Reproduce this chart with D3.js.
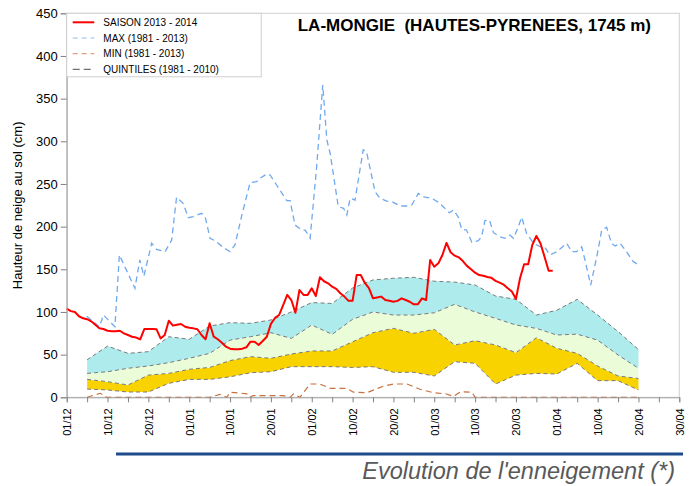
<!DOCTYPE html>
<html>
<head>
<meta charset="utf-8">
<script src="https://cdn.jsdelivr.net/npm/d3@7"></script>
<style>
body { margin: 0; background: #fff; }
svg { display: block; font-family: "Liberation Sans", Arial, sans-serif; }
</style>
</head>
<body>
<script>
var width = 694;
var height = 486;

// x en "jours" : 10 unites par graduation datee
var dateLabels = ["01/12","10/12","20/12","01/01","10/01","20/01","01/02","10/02",
    "20/02","01/03","10/03","20/03","01/04","10/04","20/04","30/04"];

// saison 2013-2014, une valeur par jour depuis le 01/12
var saison = [104,101,100,95,92.6,91.5,89,85,80.8,80,
    78,77.5,77.5,78,75,73,71,70,68,80,
    80,80,79.7,69,73,89.8,84,85,85.9,82.7,
    81.5,80.8,79.7,73,68,86.7,71,68,64,59.3,
    57,56.2,56.2,57,58.6,65.2,65.2,61.3,66,71,
    86,93,96.4,108,120,114,99,125.7,120,120,
    127.7,118.7,140.6,136,133.6,129.6,127,122,118,113,
    113,143.3,143.3,134,128,116,117,118,114,113.2,
    112,113,116,114,112,109,109,116,114,161,
    153,157,166.8,181,170,166,164,159.7,154,150,
    146,143.3,142.5,141,140,136.5,134.3,132,127.7,124,
    115.2,139.5,155.9,155.9,178.5,189,180.5,164.8,148.4,148.4];

// max 1981-2013 : [jour, cm]
var maxi = [[4.9,95],[8,82.7],[9,96.4],[11.8,82.7],[12.9,166.8],[16.7,127.7],[17.9,161],
    [18.9,142],[20.8,180.5],[22,173.4],[24.1,170.6],[25.7,184.3],[26.9,234.4],[28.5,227.3],
    [29.8,210.5],[31,211.7],[33,215.6],[33.9,211.7],[35.1,186.3],[36.3,183.5],[38.3,175.8],
    [40,170.6],[41.2,178.5],[42.8,211.7],[44.9,251.5],[46.5,252.7],[47.3,256.6],[49,261.7],
    [49.8,260.5],[51.4,248.8],[53,237],[53.9,230.4],[54.7,230.4],[55.9,202],[57.5,196],
    [58.4,196],[59.6,186.3],[61.2,270],[62.7,366],[63.7,301.5],[64.5,286],[66.5,223.4],
    [67.8,221.5],[68.6,213.6],[69.4,233.2],[70.6,231.2],[72.6,290],[73.4,288],[75.5,241],
    [76.7,233.2],[78.4,230],[80,228.5],[81.6,224.2],[83.3,224.2],[84.5,225.4],[86.1,239],
    [87.3,235],[89.4,233.2],[91,228.5],[92.2,223.4],[93.7,216.3],[94.7,219.5],[95.9,211],
    [96.7,196.9],[97.9,196],[99.2,181.6],[100.8,183.5],[101.6,188.2],[102.4,207],[103.5,207.8],
    [104.5,192.9],[106.1,188.2],[107.3,186.3],[108.5,190.2],[109.4,186.3],[110.6,200],[111.4,211],
    [112.6,192.2],[114.3,180.5],[115.9,176.5],[117.1,175.8],[118.3,166.8],[120,170.6],
    [122.4,180.5],[123.7,170.6],[124.9,170.6],[126.1,176.5],[126.9,160.9],[128.3,131.6],
    [129.8,164.8],[131,196],[132.2,199.2],[133.4,180.5],[134.3,177.3],[135.5,180.5],
    [137.1,170.6],[138.6,159.7],[140,155]];

// min 1981-2013 : [jour, cm]
var mini = [[5,0],[8.2,4.7],[9.8,0],[35.1,0],[37.5,3.5],[39.2,0],[40,6],[42.4,5],[44.1,4],
    [44.9,0],[45.6,2],[53,2],[54.7,0],[55.5,4],[57.1,0],[59.6,15.6],[62,15.6],[64.5,10.5],
    [68.6,10.5],[70.2,6],[73.5,5.4],[77.5,13],[80,15.6],[83.3,15.6],[86.5,9.4],[89.8,5.4],
    [93,3.9],[94.7,1],[96.5,6.6],[99.2,6],[100,0],[140,0]];

// quintiles 1981-2010, tous les 5 jours de 5 a 140
var quintDays = d3.range(5, 141, 5);
var q20 = [9.7,8.6,6.2,6.2,16.4,21,21,24,28.8,30,35.9,35.9,35.9,35,
    35.9,29.3,29.3,25,41.7,39.8,15.6,26,28,27.3,39.8,19.5,19.5,8.6];
var q40 = [21,18.3,14.4,26,28,32.8,35,43,47.6,45.7,50.7,54.3,54.3,65,
    75.7,80.8,75,79.7,61.3,66.3,61.3,52.3,69.8,57.4,51.5,36.7,25,22];
var q60 = [28,30,34,36.7,40.6,45.7,51.5,67,71,75.7,69,84.7,73.8,91.4,
    100,96.4,96.4,99,109,100,92.5,84.7,80.8,73,74,67,49.6,34];
var q80 = [44,60,51.5,53.5,71,68,83.5,87.5,86.7,90.6,100,111,110,128,
    137.5,139.5,140.6,136,135,131.6,118.7,114.8,96.4,102,114.8,96.4,77,56];

var legendItems = [
    { label: "SAISON 2013 - 2014", color: "#ff0000", dash: null, w: 2 },
    { label: "MAX (1981 - 2013)", color: "#8dbdf5", dash: "5,4", w: 1.2 },
    { label: "MIN (1981 - 2013)", color: "#e0a080", dash: "5,4", w: 1.2 },
    { label: "QUINTILES (1981 - 2010)", color: "#707070", dash: "7,4", w: 1.2 }
];

var x = d3.scaleLinear().domain([0, 150]).range([66.7, 679.3]);
var y = d3.scaleLinear().domain([0, 450]).range([397.3, 13.3]);

var svg = d3.select("body").append("svg")
    .attr("width", width)
    .attr("height", height);

// cadre
svg.append("rect")
    .attr("x", x(0)).attr("y", y(450))
    .attr("width", x(150) - x(0)).attr("height", y(0) - y(450))
    .attr("fill", "none").attr("stroke", "#d0d0d0");

// bandes de quintiles
function band(lo, hi) {
    return d3.area()
        .x(function(d, i) { return x(quintDays[i]); })
        .y0(function(d, i) { return y(lo[i]); })
        .y1(function(d, i) { return y(hi[i]); })(quintDays);
}
svg.append("path").attr("d", band(q20, q40)).attr("fill", "#f9d300");
svg.append("path").attr("d", band(q40, q60)).attr("fill", "#ebfdd8");
svg.append("path").attr("d", band(q60, q80)).attr("fill", "#aeebec");

var qline = d3.line()
    .x(function(d, i) { return x(quintDays[i]); })
    .y(function(d) { return y(d); });
[q20, q40, q60, q80].forEach(function(q) {
    svg.append("path").attr("d", qline(q))
        .attr("fill", "none").attr("stroke", "#7a7a7a")
        .attr("stroke-width", 1).attr("stroke-dasharray", "4,3");
});

var pline = d3.line()
    .x(function(d) { return x(d[0]); })
    .y(function(d) { return y(d[1]); });

svg.append("path").attr("d", pline(mini))
    .attr("fill", "none").attr("stroke", "#c8703f")
    .attr("stroke-width", 1.2).attr("stroke-dasharray", "6,4");

svg.append("path").attr("d", pline(maxi))
    .attr("fill", "none").attr("stroke", "#6fa9ef")
    .attr("stroke-width", 1.3).attr("stroke-dasharray", "6,4");

svg.append("path")
    .attr("d", d3.line()
        .x(function(d, i) { return x(i); })
        .y(function(d) { return y(d); })(saison))
    .attr("fill", "none").attr("stroke", "#ff0000")
    .attr("stroke-width", 2).attr("stroke-linejoin", "round");

// axes
var yAxis = svg.append("g")
    .attr("transform", "translate(" + x(0) + ",0)")
    .call(d3.axisLeft(y).tickValues(d3.range(0, 451, 50)).tickSize(6).tickPadding(3));
yAxis.selectAll("text").style("font-size", "13px").attr("fill", "#000");

var xAxis = svg.append("g")
    .attr("transform", "translate(0," + y(0) + ")")
    .call(d3.axisBottom(x).tickValues(d3.range(0, 151, 5)).tickSize(5)
        .tickFormat(function(d) { return d % 10 === 0 ? dateLabels[d / 10] : ""; }));
xAxis.selectAll("text")
    .style("font-size", "11px").attr("fill", "#000")
    .attr("text-anchor", "end")
    .attr("transform", "rotate(-90)")
    .attr("x", -11).attr("y", 0).attr("dy", "0.35em");

svg.selectAll(".domain").attr("stroke", "#a0a0a0");
svg.selectAll(".tick line").attr("stroke", "#808080");

svg.append("text")
    .attr("transform", "translate(22," + y(225) + ") rotate(-90)")
    .attr("text-anchor", "middle")
    .style("font-size", "13px")
    .text("Hauteur de neige au sol (cm)");

// legende
var legend = svg.append("g");
legend.append("rect")
    .attr("x", x(0)).attr("y", y(450))
    .attr("width", 194.5).attr("height", 63.5)
    .attr("fill", "#fff").attr("stroke", "#cfcfcf");
var row = legend.selectAll(".row")
    .data(legendItems)
    .enter().append("g")
    .attr("transform", function(d, i) { return "translate(0," + (22.3 + i * 15.7) + ")"; });
row.append("line")
    .attr("x1", 72.7).attr("x2", 94.3)
    .attr("stroke", function(d) { return d.color; })
    .attr("stroke-width", function(d) { return d.w; })
    .attr("stroke-dasharray", function(d) { return d.dash; });
row.append("text")
    .attr("x", 103.3).attr("dy", "0.35em")
    .style("font-size", "10px")
    .text(function(d) { return d.label; });

// titre
svg.append("text")
    .attr("x", 651).attr("y", 31)
    .attr("text-anchor", "end")
    .style("font-size", "17px").style("font-weight", "bold")
    .style("white-space", "pre")
    .text("LA-MONGIE  (HAUTES-PYRENEES, 1745 m)");

// bas de page
svg.append("line")
    .attr("x1", 116).attr("x2", 683)
    .attr("y1", 454).attr("y2", 454)
    .attr("stroke", "#1f4b8a").attr("stroke-width", 3);
svg.append("text")
    .attr("x", 675).attr("y", 479)
    .attr("text-anchor", "end")
    .style("font-size", "23.5px").style("font-style", "italic")
    .attr("fill", "#595959")
    .text("Evolution de l'enneigement (*)");
</script>
</body>
</html>
